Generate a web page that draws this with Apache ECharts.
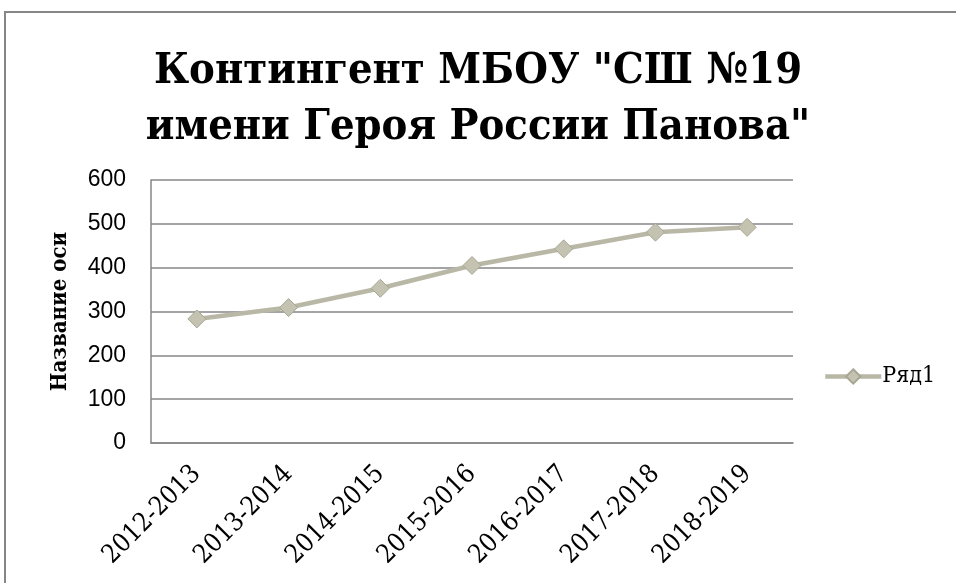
<!DOCTYPE html>
<html lang="ru">
<head>
    <meta charset="utf-8">
    <title>index</title>
    <style>
        html, body { margin: 0; padding: 0; background: #fff; }
    </style>
</head>
<body>
    <div id="main" style="width: 956px;height:583px;"></div>
    <script src="https://cdn.jsdelivr.net/npm/echarts@6/dist/echarts.min.js"></script>
    <script>
        // данные
        var years = ['2012-2013', '2013-2014', '2014-2015', '2015-2016', '2016-2017', '2017-2018', '2018-2019'];
        var row1 = [283, 309, 353, 405, 443, 481, 492];
        var seriesName = 'Ряд1';

        var serif = "'DejaVu Serif Condensed', 'DejaVu Serif', serif";

        var myChart = echarts.init(document.getElementById('main'));
        var option = {
            backgroundColor: '#fff',
            animation: false,
            title: {
                text: 'Контингент МБОУ "СШ №19\nимени Героя России Панова"',
                left: 'center',
                top: 39,
                textStyle: {
                    fontFamily: serif,
                    fontWeight: 'bold',
                    fontSize: 43,
                    lineHeight: 56,
                    color: '#000'
                }
            },
            legend: {
                left: 818,
                top: 360,
                itemWidth: 56,
                itemHeight: 18,
                itemGap: 4,
                lineStyle: { width: 4.5 },
                textStyle: {
                    fontFamily: serif,
                    fontSize: 23,
                    padding: [0, 0, 0, -4],
                    color: '#000'
                },
                data: [seriesName]
            },
            grid: {
                left: 151,
                right: 163,
                top: 180,
                bottom: 140
            },
            xAxis: {
                type: 'category',
                data: years,
                boundaryGap: true,
                axisLine: { lineStyle: { color: '#868686', width: 1.5 } },
                axisTick: { show: false },
                axisLabel: {
                    rotate: 45,
                    margin: 27,
                    fontFamily: serif,
                    fontSize: 26,
                    color: '#000'
                }
            },
            yAxis: {
                type: 'value',
                min: 0,
                max: 600,
                interval: 100,
                name: 'Название оси',
                nameLocation: 'middle',
                nameGap: 80,
                nameTextStyle: {
                    fontFamily: serif,
                    fontWeight: 'bold',
                    fontSize: 22,
                    color: '#000'
                },
                axisLine: { show: true, lineStyle: { color: '#868686', width: 1.5 } },
                axisTick: { show: false },
                splitLine: { lineStyle: { color: '#868686', width: 1.5 } },
                axisLabel: {
                    margin: 25,
                    fontFamily: 'Liberation Sans',
                    fontSize: 23,
                    color: '#000'
                }
            },
            series: [{
                name: seriesName,
                type: 'line',
                data: row1,
                symbol: 'diamond',
                symbolSize: 18,
                lineStyle: { color: '#b9b8a6', width: 4.5 },
                itemStyle: { color: '#c4c3b2', borderColor: '#a8a794', borderWidth: 1 }
            }],
            graphic: [{
                type: 'rect',
                shape: { x: 5, y: 12, width: 960, height: 600 },
                style: { fill: 'none', stroke: '#868686', lineWidth: 2 },
                silent: true
            }]
        };
        myChart.setOption(option);
    </script>
</body>
</html>
